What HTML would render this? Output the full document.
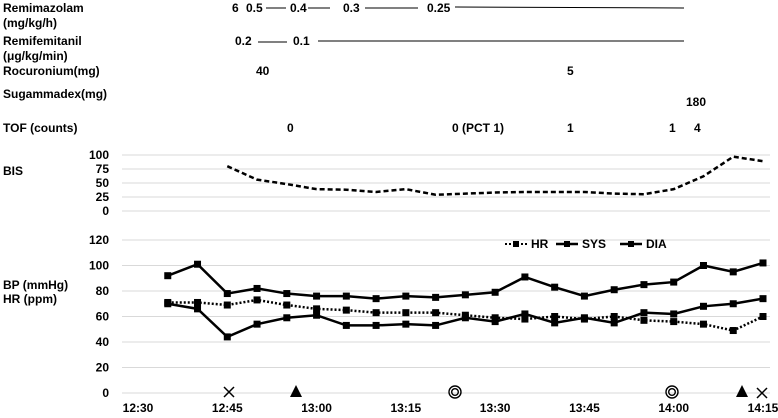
<!DOCTYPE html>
<html><head><meta charset="utf-8"><style>
body{margin:0;background:#fff;width:778px;height:413px;overflow:hidden}
svg{font-family:"Liberation Sans Narrow","Liberation Sans","Noto Sans CJK JP",sans-serif;font-weight:bold;font-size:12px}
</style></head><body>
<svg id="c" width="778" height="413">
<g fill="#000">
<text x="3" y="12">Remimazolam</text><text x="3" y="27">(mg/kg/h)</text>
<text x="3" y="45">Remifemitanil</text><text x="3" y="60">(μg/kg/min)</text>
<text x="3" y="75">Rocuronium(mg)</text>
<text x="3" y="98">Sugammadex(mg)</text>
<text x="3" y="132">TOF (counts)</text>
<text x="3" y="175">BIS</text>
<text x="3" y="289">BP (mmHg)</text><text x="3" y="303">HR (ppm)</text>
</g>
<g>
<text x="232" y="12">6</text><text x="246" y="12">0.5</text><line x1="266" y1="8" x2="286" y2="8" stroke="#000"/>
<text x="290" y="12">0.4</text><line x1="308" y1="8" x2="330" y2="8" stroke="#000"/>
<text x="343" y="12">0.3</text><line x1="365" y1="8" x2="418" y2="8" stroke="#000"/>
<text x="427" y="12">0.25</text><line x1="455" y1="7" x2="684" y2="8" stroke="#000"/>
<text x="235" y="45">0.2</text><line x1="258" y1="42" x2="287" y2="42" stroke="#000"/>
<text x="293" y="45">0.1</text><line x1="318" y1="41" x2="684" y2="41" stroke="#000"/>
<text x="256" y="75">40</text><text x="567" y="75">5</text>
<text x="686" y="106">180</text>
<text x="287" y="132">0</text><text x="452" y="132">0 (PCT 1)</text><text x="567" y="132">1</text><text x="669" y="132">1</text><text x="694" y="132">4</text>
</g>
<g id="bisg"></g>
<g id="bpg"></g>
<g>
<line x1="505" y1="244" x2="527" y2="244" stroke="#000" stroke-width="2" stroke-dasharray="2,2"/><rect x="513" y="241" width="6" height="6"/><text x="531" y="248">HR</text>
<line x1="556" y1="244" x2="578" y2="244" stroke="#000" stroke-width="2.5"/><rect x="564" y="241" width="6" height="6"/><text x="582" y="248">SYS</text>
<line x1="620" y1="244" x2="642" y2="244" stroke="#000" stroke-width="2.5"/><rect x="628" y="241" width="6" height="6"/><text x="646" y="248">DIA</text>
</g>
<g>
<path d="M224 387 L234 397 M234 387 L224 397" stroke="#000" stroke-width="1.5"/>
<polygon points="296,385 302,397 290,397" fill="#000"/>
<circle cx="455" cy="392" r="6" fill="none" stroke="#000" stroke-width="1.4"/><circle cx="455" cy="392" r="3.3" fill="none" stroke="#000" stroke-width="1.4"/>
<circle cx="672" cy="392" r="6" fill="none" stroke="#000" stroke-width="1.4"/><circle cx="672" cy="392" r="3.3" fill="none" stroke="#000" stroke-width="1.4"/>
<polygon points="742,385 748,397 736,397" fill="#000"/>
<path d="M757 388 L767 398 M767 388 L757 398" stroke="#000" stroke-width="1.5"/>
</g>
</svg>
<script>
const timeLabels=["12:30","12:45","13:00","13:15","13:30","13:45","14:00","14:15"];
const bpTicks=[0,20,40,60,80,100,120];
const bisTicks=[0,25,50,75,100];
const sys=[92,101,78,82,78,76,76,74,76,75,77,79,91,83,76,81,85,87,100,95,102];
const dia=[70,66,44,54,59,61,53,53,54,53,59,56,62,55,59,55,63,62,68,70,74];
const hr=[71,71,69,73,69,66,65,63,63,63,61,59,58,60,58,60,57,56,54,49,60];
const bis=[80,56,48,39,38,34,39,29,31,33,34,34,34,31,30,39,62,97,89];
const NS="http://www.w3.org/2000/svg";
const x0=138,x1=763;
function xMin(m){return x0+(x1-x0)*m/105;}
function yBP(v){return 393-v*(393-240)/120;}
function yBIS(v){return 211-v*(211-155)/100;}
function mk(t,a,p){const e=document.createElementNS(NS,t);for(const k in a)e.setAttribute(k,a[k]);p.appendChild(e);return e;}
const bp=document.getElementById('bpg'),bg=document.getElementById('bisg');
bpTicks.forEach(v=>{
 const l=mk('line',{x1:122,x2:770,y1:yBP(v),y2:yBP(v),stroke:'#d9d9d9'},bp);
 
 
 const t=mk('text',{x:109,y:yBP(v)+4,'text-anchor':'end'},bp);t.textContent=v;
 
 
});
bisTicks.forEach(v=>{
 const l=mk('line',{x1:122,x2:770,y1:yBIS(v),y2:yBIS(v),stroke:'#d9d9d9'},bg);
 
 
 const t=mk('text',{x:109,y:yBIS(v)+4,'text-anchor':'end'},bg);t.textContent=v;
 
 
});
timeLabels.forEach((s,i)=>{
 const t=mk('text',{x:xMin(i*15),y:412,'text-anchor':'middle'},bp);t.textContent=s;
 
 
});
function series(arr,start,yf,dash,name,markers){
 const pts=arr.map((v,i)=>xMin(start+i*5)+','+yf(v)).join(' ');
 const p=mk('polyline',{points:pts,fill:'none',stroke:'#000','stroke-width':dash?2.5:2.5,'stroke-dasharray':dash||'none'},yf===yBP?bp:bg);
 
 
 if(markers)arr.forEach((v,i)=>{
  const r=mk('rect',{x:xMin(start+i*5)-3.5,y:yf(v)-3.5,width:7,height:7},bp);
  
  
 });
}
series(bis,15,yBIS,'5,3','bis',false);
series(hr,5,yBP,'2,2','hr',true);
series(sys,5,yBP,null,'sys',true);
series(dia,5,yBP,null,'dia',true);
</script>
</body></html>
